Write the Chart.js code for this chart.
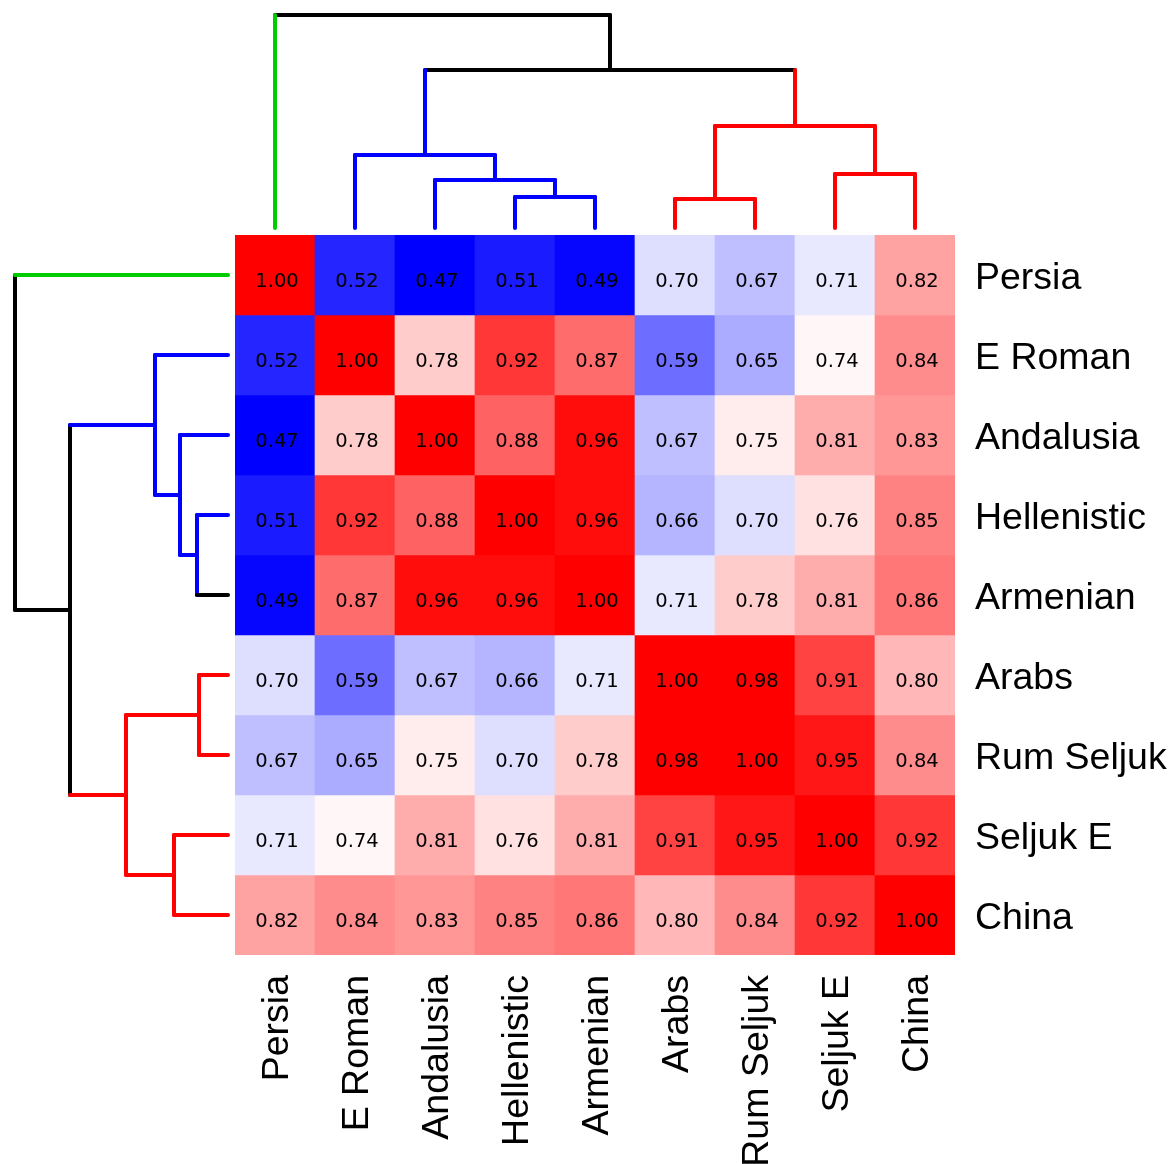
<!DOCTYPE html>
<html>
<head>
<meta charset="utf-8">
<script src="https://cdn.jsdelivr.net/npm/chart.js@4.4.1/dist/chart.umd.min.js"></script>
<style>
  body { margin: 0; background: #fff; width: 1173px; height: 1164px; overflow: hidden; position: relative; }
  canvas { position: absolute; }
</style>
</head>
<body>
<canvas id="topTree" width="720" height="235" style="left:235px;top:0"></canvas>
<canvas id="leftTree" width="235" height="720" style="left:0;top:235px"></canvas>
<canvas id="heat" width="938" height="929" style="left:235px;top:235px"></canvas>
<script>
// leaf order (same for rows and columns)
const regions = ['Persia', 'E Roman', 'Andalusia', 'Hellenistic', 'Armenian', 'Arabs', 'Rum Seljuk', 'Seljuk E', 'China'];

// correlation matrix, one row per region
const corr = [
  [1.00, 0.52, 0.47, 0.51, 0.49, 0.70, 0.67, 0.71, 0.82],
  [0.52, 1.00, 0.78, 0.92, 0.87, 0.59, 0.65, 0.74, 0.84],
  [0.47, 0.78, 1.00, 0.88, 0.96, 0.67, 0.75, 0.81, 0.83],
  [0.51, 0.92, 0.88, 1.00, 0.96, 0.66, 0.70, 0.76, 0.85],
  [0.49, 0.87, 0.96, 0.96, 1.00, 0.71, 0.78, 0.81, 0.86],
  [0.70, 0.59, 0.67, 0.66, 0.71, 1.00, 0.98, 0.91, 0.80],
  [0.67, 0.65, 0.75, 0.70, 0.78, 0.98, 1.00, 0.95, 0.84],
  [0.71, 0.74, 0.81, 0.76, 0.81, 0.91, 0.95, 1.00, 0.92],
  [0.82, 0.84, 0.83, 0.85, 0.86, 0.80, 0.84, 0.92, 1.00]
];

// clustering: each merge joins two nodes (0-8 leaves, 9+ earlier merges)
const mergePairs = [[3, 4], [5, 6], [2, 9], [7, 8], [1, 11], [10, 12], [13, 14], [0, 15]];
const mergeHeights = [0.31, 0.29, 0.48, 0.54, 0.73, 1.02, 1.58, 2.13];

// branch colours (leaves then merges)
const GREEN = '#00cd00', BLUE = '#0000ff', RED = '#ff0000', BLACK = '#000000';
const nodeColors = [BLUE, RED, BLUE, RED, BLUE, RED, BLACK, BLACK];
const topLeafColors = [GREEN, BLUE, BLUE, BLUE, BLUE, RED, RED, RED, RED];
const leftLeafColors = [GREEN, BLUE, BLUE, BLUE, BLACK, RED, RED, RED, RED];

// blue - white - red scale, white near 0.73
const cellColor = v => {
  const mid = 0.732;
  const t = v >= mid ? Math.min(1, (v - mid) / 0.24) : -Math.min(1, (mid - v) / 0.248);
  const w = Math.round(255 * (1 - Math.abs(t)));
  return t >= 0 ? `rgb(255,${w},${w})` : `rgb(${w},${w},255)`;
};

// build the dendrogram as line segments
const treeDatasets = (leafColors, vertical) => {
  const pos = regions.map((_, i) => i);
  const height = regions.map(() => 0);
  const colors = leafColors.concat(nodeColors);
  const sets = [];
  const pt = (p, h) => vertical ? { x: p, y: h } : { x: h, y: p };
  const seg = (a, b, color) => sets.push({
    data: [a, b], borderColor: color, showLine: true, pointRadius: 0,
    borderWidth: 4, borderCapStyle: 'round', clip: false
  });
  mergePairs.forEach(([a, b], i) => {
    const n = regions.length + i;
    const h = mergeHeights[i];
    pos[n] = (pos[a] + pos[b]) / 2;
    height[n] = h;
    seg(pt(pos[a], height[a]), pt(pos[a], h), colors[a]);
    seg(pt(pos[b], height[b]), pt(pos[b], h), colors[b]);
    seg(pt(pos[a], h), pt(pos[b], h), colors[n]);
  });
  return sets;
};

const treeOptions = (padding, xScale, yScale) => ({
  responsive: false, animation: false, devicePixelRatio: 1,
  layout: { padding },
  plugins: { legend: { display: false }, tooltip: { enabled: false } },
  scales: { x: { type: 'linear', display: false, ...xScale }, y: { type: 'linear', display: false, ...yScale } }
});

new Chart(document.getElementById('topTree'), {
  type: 'scatter',
  data: { datasets: treeDatasets(topLeafColors, true) },
  options: treeOptions({ top: 15, bottom: 7, left: 0, right: 0 },
    { min: -0.5, max: 8.5 }, { min: 0, max: 2.13 })
});

new Chart(document.getElementById('leftTree'), {
  type: 'scatter',
  data: { datasets: treeDatasets(leftLeafColors, false) },
  options: treeOptions({ left: 15, right: 7, top: 0, bottom: 0 },
    { min: 0, max: 2.13, reverse: true }, { min: -0.5, max: 8.5, reverse: true })
});

// value labels inside the cells
const cellText = {
  id: 'cellText',
  afterDatasetsDraw(chart) {
    const ctx = chart.ctx;
    ctx.save();
    ctx.font = '19.5px "DejaVu Sans"';
    ctx.fillStyle = '#000';
    ctx.textAlign = 'center';
    ctx.textBaseline = 'alphabetic';
    chart.data.datasets.forEach((ds, r) => {
      chart.getDatasetMeta(r).data.forEach((bar, c) => {
        ctx.fillText(corr[r][c].toFixed(2), bar.x + 2, (bar.y + bar.base) / 2 + 12);
      });
    });
    ctx.restore();
  }
};

const labelFont = { family: '"Liberation Sans", Arial, sans-serif', size: 37.5 };

new Chart(document.getElementById('heat'), {
  type: 'bar',
  data: {
    labels: regions,
    datasets: corr.map((row, r) => ({
      data: row.map(() => [r - 0.5, r + 0.5]),
      backgroundColor: row.map(cellColor),
      borderWidth: 0,
      barPercentage: 1,
      categoryPercentage: 1,
      grouped: false
    }))
  },
  options: {
    responsive: false, animation: false, devicePixelRatio: 1,
    layout: { padding: 0 },
    plugins: { legend: { display: false }, tooltip: { enabled: false } },
    scales: {
      x: {
        grid: { display: false, drawTicks: false },
        border: { display: false },
        ticks: { color: '#000', font: labelFont, padding: 20, labelOffset: 3, minRotation: 90, maxRotation: 90, autoSkip: false },
        afterFit: s => { s.height = 209; s.paddingLeft = 0; s.paddingRight = 0; }
      },
      y: {
        type: 'linear', position: 'right', min: -0.5, max: 8.5, reverse: true,
        grid: { display: false, drawTicks: false },
        border: { display: false },
        afterBuildTicks: s => { s.ticks = regions.map((_, i) => ({ value: i })); },
        ticks: { color: '#000', font: labelFont, padding: 20, labelOffset: 4, autoSkip: false, callback: v => regions[v] },
        afterFit: s => { s.width = 218; s.paddingTop = 0; s.paddingBottom = 0; }
      }
    }
  },
  plugins: [cellText]
});
</script>
</body>
</html>
